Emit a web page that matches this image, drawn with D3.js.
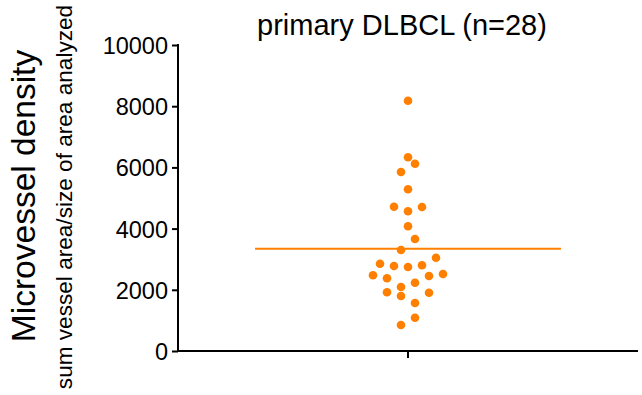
<!DOCTYPE html>
<html><head><meta charset="utf-8">
<script src="https://cdn.jsdelivr.net/npm/d3@7"></script>
<style>body{margin:0;background:#fff}svg{display:block}text{font-family:"Liberation Sans",Arial,sans-serif;fill:#000}</style>
</head><body><svg id="c" width="642" height="395"></svg>
<script>
const title = "primary DLBCL (n=28)";
const yTitle = "Microvessel density";
const ySubtitle = "sum vessel area/size of area analyzed";
const yTicks = [0, 2000, 4000, 6000, 8000, 10000];
const values = [8180, 6330, 6120, 5850, 5284, 4716, 4565, 4706, 4075, 3660, 3300, 3049, 2853, 2778, 2745, 2800, 2474, 2376, 2451, 2516, 2232, 2092, 1918, 1797, 1905, 1569, 1088, 850];
const slots  = [0, 0, 1, -1, 0, -2, 0, 2, 0, 1, -1, 4, -4, -2, 0, 2, -5, -3, 3, 5, 1, -1, -3, -1, 3, 1, 1, -1];
const meanValue = 3340;

const svg = d3.select("#c");
const color = "#ff8000";
const y = d3.scaleLinear().domain([0, 10000]).range([351, 45]);
const x = d3.scaleLinear().domain([0, 2]).range([178, 638]);
const slotPx = d3.scaleLinear().domain([0, 1]).range([0, 7]);

// y axis
const ya = svg.append("g").attr("transform", "translate(178,0)")
  .call(d3.axisLeft(y).tickValues(yTicks).tickSize(6).tickPadding(4).tickFormat(d3.format("d")));
ya.selectAll("text").style("font-size", "23.5px").attr("dy", "0.36em");
ya.selectAll("line").attr("stroke-width", 2);
ya.select(".domain").remove();
svg.append("line").attr("x1", 178).attr("x2", 178).attr("y1", y(10000) - 1).attr("y2", y(0) + 1).attr("stroke", "#000").attr("stroke-width", 2);

// x axis
svg.append("line").attr("x1", x(0) - 1).attr("x2", x(2)).attr("y1", y(0)).attr("y2", y(0)).attr("stroke", "#000").attr("stroke-width", 2);
svg.append("line").attr("x1", x(1)).attr("x2", x(1)).attr("y1", y(0)).attr("y2", y(0) + 7).attr("stroke", "#000").attr("stroke-width", 2);

// mean line
svg.append("line").attr("x1", x(1 - 0.665)).attr("x2", x(1 + 0.665))
  .attr("y1", y(meanValue)).attr("y2", y(meanValue)).attr("stroke", color).attr("stroke-width", 2);

// dots
svg.selectAll("circle.pt").data(values).enter().append("circle").attr("class", "pt")
  .attr("cx", (d, i) => x(1) + slotPx(slots[i]))
  .attr("cy", d => y(d)).attr("r", 4.3).attr("fill", color);

// title
svg.append("text").attr("x", 402).attr("y", 35).attr("text-anchor", "middle").style("font-size", "29px").text(title);

// y labels
svg.append("text").attr("transform", "translate(35,196) rotate(-90)").attr("text-anchor", "middle").style("font-size", "33.5px").text(yTitle);
svg.append("text").attr("transform", "translate(72,197) rotate(-90)").attr("text-anchor", "middle").style("font-size", "22.6px").text(ySubtitle);
</script></body></html>
